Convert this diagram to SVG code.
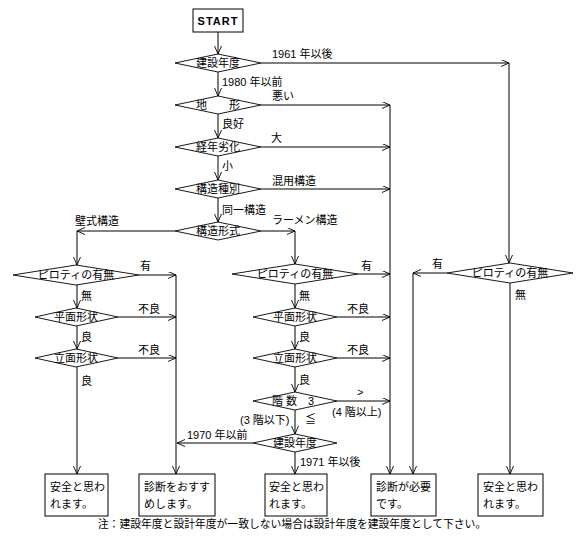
<svg xmlns="http://www.w3.org/2000/svg" width="585" height="557" viewBox="0 0 585 557">
<defs>
<marker id="ar" markerWidth="10" markerHeight="8" refX="8" refY="3.5" orient="auto" markerUnits="userSpaceOnUse">
<path d="M0,0 L8,3.5 L0,7" fill="none" stroke="#000" stroke-width="0.9"/>
</marker>
<style>
.ln{fill:none;stroke:#000;stroke-width:1}
.a{marker-end:url(#ar)}
.nd{fill:#fff;stroke:#000;stroke-width:1}
.dm{fill:none;stroke:#000;stroke-width:0.9}
text{font-family:"Liberation Sans","Noto Sans CJK JP",sans-serif;font-size:11px;fill:#000}
.c{text-anchor:middle}
</style>
</defs>
<rect width="585" height="557" fill="#fff"/>
<g id="connectors">
<path class="ln a" d="M218,32 V54"/>
<path class="ln a" d="M218,72 V96"/>
<path class="ln a" d="M261,63 H509"/>
<path class="ln a" d="M509,63 V263"/>
<path class="ln a" d="M261,105 H390"/>
<path class="ln a" d="M390,105 V474"/>
<path class="ln a" d="M218,114 V138"/>
<path class="ln a" d="M261,147 H390"/>
<path class="ln a" d="M218,156 V180"/>
<path class="ln a" d="M261,189 H390"/>
<path class="ln a" d="M218,198 V222"/>
<path class="ln a" d="M175,231 H77"/>
<path class="ln a" d="M77,231 V265"/>
<path class="ln a" d="M261,231 H295"/>
<path class="ln a" d="M295,231 V264"/>
<path class="ln a" d="M139,275 H176"/>
<path class="ln a" d="M176,275 V474"/>
<path class="ln a" d="M77,285 V308"/>
<path class="ln a" d="M118,317 H176"/>
<path class="ln a" d="M77,326 V349"/>
<path class="ln a" d="M118,358 H176"/>
<path class="ln a" d="M77,367 V474"/>
<path class="ln a" d="M358,274 H390"/>
<path class="ln a" d="M295,284 V308"/>
<path class="ln a" d="M337,317 H390"/>
<path class="ln a" d="M295,326 V349"/>
<path class="ln a" d="M337,358 H390"/>
<path class="ln a" d="M295,367 V392"/>
<path class="ln a" d="M337,401 H390"/>
<path class="ln a" d="M295,410 V434"/>
<path class="ln a" d="M253,443 H177"/>
<path class="ln a" d="M295,452 V474"/>
<path class="ln a" d="M447,273 H413"/>
<path class="ln a" d="M413,273 V474"/>
<path class="ln a" d="M510,283 V474"/>
</g>
<g id="labels">
<text x="272" y="58">1961 年以後</text>
<text x="222" y="86">1980 年以前</text>
<text x="272" y="100">悪い</text>
<text x="222" y="128">良好</text>
<text x="271" y="142">大</text>
<text x="222" y="170">小</text>
<text x="272" y="185">混用構造</text>
<text x="222" y="214">同一構造</text>
<text x="272" y="224">ラーメン構造</text>
<text x="75" y="225">壁式構造</text>
<text x="140" y="270">有</text>
<text x="81" y="300">無</text>
<text x="138" y="313">不良</text>
<text x="81" y="341">良</text>
<text x="138" y="354">不良</text>
<text x="81" y="385">良</text>
<text x="361" y="270">有</text>
<text x="299" y="300">無</text>
<text x="347" y="313">不良</text>
<text x="299" y="341">良</text>
<text x="347" y="354">不良</text>
<text x="299" y="384">良</text>
<text x="357" y="396">&gt;</text>
<text x="332" y="416">(4 階以上)</text>
<text x="240" y="424">(3 階以下)</text>
<text x="305" y="423">≦</text>
<text x="187" y="439">1970 年以前</text>
<text x="300" y="466">1971 年以後</text>
<text x="432" y="268">有</text>
<text x="515" y="299">無</text>
</g>
<g id="start">
<rect class="nd" x="193" y="9" width="50" height="23"/>
<text class="c" x="218" y="25" style="font-weight:bold;letter-spacing:1px">START</text>
</g>
<g id="d1"><path class="dm" d="M175,63 L218,54 L261,63 L218,72 Z"/><text class="c" x="218" y="67">建設年度</text></g>
<g id="d2"><path class="dm" d="M175,105 L218,96 L261,105 L218,114 Z"/><text class="c" x="218" y="109">地　　形</text></g>
<g id="d3"><path class="dm" d="M175,147 L218,138 L261,147 L218,156 Z"/><text class="c" x="218" y="151">経年劣化</text></g>
<g id="d4"><path class="dm" d="M175,189 L218,180 L261,189 L218,198 Z"/><text class="c" x="218" y="193">構造種別</text></g>
<g id="d5"><path class="dm" d="M175,231 L218,222 L261,231 L218,240 Z"/><text class="c" x="218" y="235">構造形式</text></g>
<g id="pl"><path class="dm" d="M13,275 L76,265 L139,275 L76,285 Z"/><text class="c" x="76" y="279">ピロティの有無</text></g>
<g id="hl"><path class="dm" d="M35,317 L76,308 L118,317 L76,326 Z"/><text class="c" x="76" y="321">平面形状</text></g>
<g id="rl"><path class="dm" d="M35,358 L76,349 L118,358 L76,367 Z"/><text class="c" x="76" y="362">立面形状</text></g>
<g id="pm"><path class="dm" d="M232,274 L295,264 L358,274 L295,284 Z"/><text class="c" x="295" y="278">ピロティの有無</text></g>
<g id="hm"><path class="dm" d="M253,317 L295,308 L337,317 L295,326 Z"/><text class="c" x="295" y="321">平面形状</text></g>
<g id="rm"><path class="dm" d="M253,358 L295,349 L337,358 L295,367 Z"/><text class="c" x="295" y="362">立面形状</text></g>
<g id="kai"><path class="dm" d="M253,401 L295,392 L337,401 L295,410 Z"/><text class="c" x="293" y="405">階 数　3</text></g>
<g id="d6"><path class="dm" d="M253,443 L295,434 L337,443 L295,452 Z"/><text class="c" x="295" y="447">建設年度</text></g>
<g id="pr"><path class="dm" d="M447,273 L510,263 L573,273 L510,283 Z"/><text class="c" x="510" y="277">ピロティの有無</text></g>
<g id="b1"><rect class="nd" x="45" y="474" width="63" height="42"/><text x="50" y="491">安全と思わ</text><text x="50" y="508">れます。</text></g>
<g id="b2"><rect class="nd" x="139" y="474" width="76" height="42"/><text x="144" y="491">診断をおすす</text><text x="144" y="508">めします。</text></g>
<g id="b3"><rect class="nd" x="265" y="474" width="62" height="42"/><text x="269" y="491">安全と思わ</text><text x="269" y="508">れます。</text></g>
<g id="b4"><rect class="nd" x="371" y="474" width="65" height="42"/><text x="376" y="491">診断が必要</text><text x="376" y="508">です。</text></g>
<g id="b5"><rect class="nd" x="478" y="474" width="65" height="42"/><text x="483" y="491">安全と思わ</text><text x="483" y="508">れます。</text></g>
<g id="note"><text class="c" x="292" y="528" style="font-size:10.8px">注：建設年度と設計年度が一致しない場合は設計年度を建設年度として下さい。</text></g>
</svg>
